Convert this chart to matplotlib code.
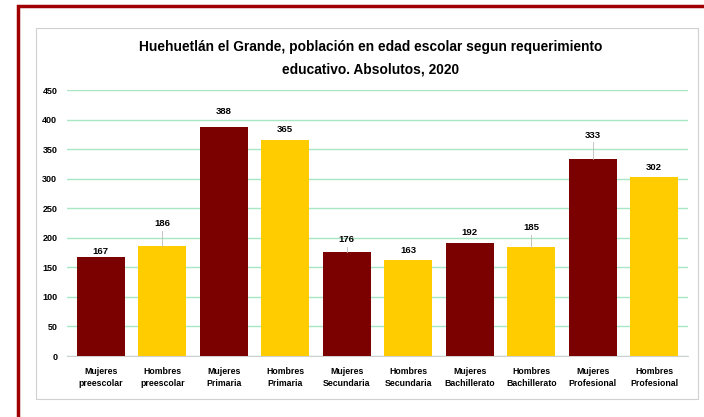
import matplotlib
matplotlib.use("Agg")
import matplotlib.pyplot as plt
from matplotlib.patches import Rectangle

categories = ["Mujeres\npreescolar", "Hombres\npreescolar", "Mujeres\nPrimaria", "Hombres\nPrimaria",
              "Mujeres\nSecundaria", "Hombres\nSecundaria", "Mujeres\nBachillerato", "Hombres\nBachillerato",
              "Mujeres\nProfesional", "Hombres\nProfesional"]
values = [167, 186, 388, 365, 176, 163, 192, 185, 333, 302]
label_offsets = [2, 30, 18, 10, 13, 8, 10, 24, 33, 10]
leader = [False, True, False, False, True, False, False, True, True, False]
colors = ["#7B0000", "#FFCC00"] * 5
yticks = [0, 50, 100, 150, 200, 250, 300, 350, 400, 450]

plt.rcParams['font.family'] = ['Liberation Sans', 'DejaVu Sans']

fig = plt.figure(figsize=(7.04, 4.17), dpi=100)
W, H = 704, 417
# outer dark red frame
fig.add_artist(Rectangle((18/W, -0.05), 1.1, 1 - 6/H + 0.05, transform=fig.transFigure,
                         fill=False, edgecolor="#A00000", linewidth=2.5))
# inner gray chart box
fig.add_artist(Rectangle((36/W, 1 - 399/H), (698-36)/W, (399-28)/H, transform=fig.transFigure,
                         fill=False, edgecolor="#D0D0D0", linewidth=0.8))

ax = fig.add_axes([67/W, 1 - 356/H, (688-67)/W, (356-90)/H])
x = list(range(len(values)))
ax.bar(x, values, width=0.78, color=colors, zorder=3)
ax.set_ylim(0, 450)
ax.set_xlim(-0.55, len(values) - 0.45)
ax.set_yticks(yticks)
ax.set_yticklabels([str(t) for t in yticks], fontsize=6.5, fontweight='bold')
ax.set_xticks(x)
ax.set_xticklabels(categories, fontsize=6.3, fontweight='bold', linespacing=1.45)
ax.tick_params(axis='x', length=0, pad=8)
ax.tick_params(axis='y', length=0, pad=7)
ax.grid(axis='y', color="#A8E6C4", linewidth=1, zorder=0)
for s in ["top", "right", "left"]:
    ax.spines[s].set_visible(False)
ax.spines["bottom"].set_color("#D0D0D0")

for i, v in enumerate(values):
    ly = v + label_offsets[i]
    ax.text(i, ly, str(v), ha='center', va='bottom', fontsize=6.8, fontweight='bold')
    if leader[i]:
        ax.plot([i, i], [v, ly - 4], color="#BBBBBB", linewidth=0.6, zorder=4)

tx = 371 / W
fig.text(tx, 1 - 47/H, "Huehuetlán el Grande, población en edad escolar segun requerimiento",
         ha='center', va='center', fontsize=9.9, fontweight='bold')
fig.text(tx, 1 - 70/H, "educativo. Absolutos, 2020",
         ha='center', va='center', fontsize=9.9, fontweight='bold')

fig.savefig("out.png", dpi=100)
